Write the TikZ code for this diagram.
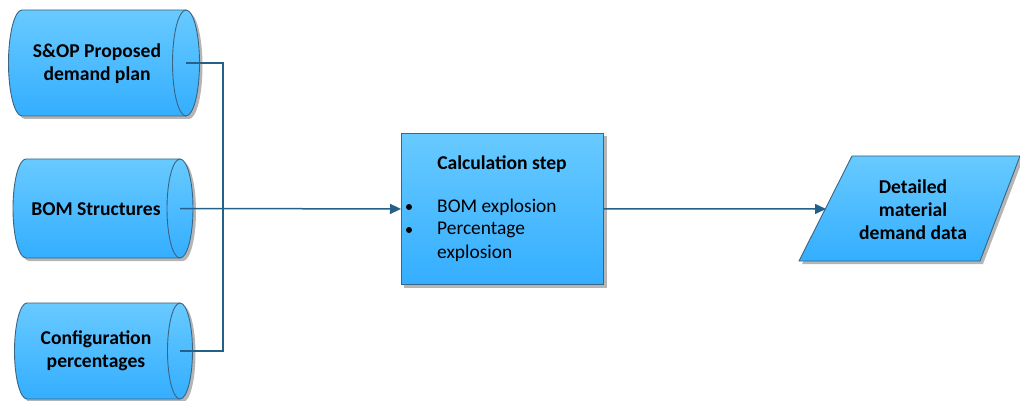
\documentclass[tikz,border=0pt]{standalone}
\usepackage{fontspec}
\setmainfont{Carlito}
\usetikzlibrary{arrows.meta,calc}

\definecolor{fillTop}{RGB}{104,202,255}
\definecolor{fillBot}{RGB}{52,174,255}
\definecolor{edgeCol}{RGB}{58,100,130}
\definecolor{linkCol}{RGB}{36,96,136}
\definecolor{shadowCol}{RGB}{150,150,150}

\tikzset{
  shapefill/.style={top color=fillTop, bottom color=fillBot, draw=edgeCol, line width=0.9pt},
  shapeshadow/.style={fill=shadowCol, draw=none, opacity=0.7},
  link/.style={draw=linkCol, line width=1.5pt},
  linkarrow/.style={link, -{Triangle[length=11pt,width=10pt]}},
  lbl/.style={font=\bfseries\fontsize{19.6}{23}\selectfont, align=center, text=black},
  body/.style={font=\fontsize{19.4}{23}\selectfont, text=black, inner sep=0pt},
}

% horizontal cylinder: #1 left x, #2 right x, #3 top y, #4 bottom y,
% #5 half-width and #6 half-height of the end ellipse (with units)
\newcommand{\storepath}[6]{%
  (#1,#3) -- (#2,#3)
  arc[start angle=90, end angle=-90, x radius=#5, y radius=#6]
  -- (#1,#4)
  arc[start angle=270, end angle=90, x radius=#5, y radius=#6] -- cycle}
\newcommand{\storeshape}[7]{%
  \path[shapeshadow] [shift={(3,3)}] \storepath{#1}{#2}{#3}{#4}{#5}{#6};
  \path[shapefill] \storepath{#1}{#2}{#3}{#4}{#5}{#6};
  \draw[edgeCol, line width=0.9pt] (#2,#3)
    arc[start angle=90, end angle=270, x radius=#5, y radius=#6];
  \coordinate (#7) at (#2,{(#3+#4)/2});
}

\begin{document}
\begin{tikzpicture}[x=1pt, y=-1pt]
\useasboundingbox (0,0) rectangle (1020,401);

% data stores on the left
\storeshape{22}{186}{10}{116}{13.5pt}{53pt}{plan}
\node[lbl] (plantxt) at (97,64) {S\&OP Proposed\\demand plan};

\storeshape{26}{180}{159}{258}{13pt}{49.5pt}{bom}
\node[lbl] (bomtxt) at (96,209) {BOM Structures};

\storeshape{27}{180}{303}{399}{12.5pt}{48pt}{cfg}
\node[lbl] (cfgtxt) at (96,351) {Configuration\\percentages};

% calculation step
\fill[shadowCol, opacity=0.7] (404,136) rectangle (607,288);
\node[shapefill, rectangle, minimum width=202pt, minimum height=151pt,
      anchor=north west, inner sep=0pt] (calc) at (401,133) {};
\node[lbl] (calctitle) at (502,164) {Calculation step};
\node[body, anchor=west] (b1) at (437,207) {BOM explosion};
\node[body, anchor=west] (b2) at (437,230) {Percentage};
\node[body, anchor=west] (b3) at (437,253) {explosion};
\fill (409,207) circle (3pt);
\fill (409,230) circle (3pt);

% output data
\path[shapeshadow] (802,264) -- (855,159) -- (1023,159) -- (983,264) -- cycle;
\path[shapefill] (799,261) -- (852,156) -- (1020,156) -- (980,261) -- cycle;
\coordinate (outin) at (826,209);
\node[lbl] (outtxt) at (913,210) {Detailed\\material\\demand data};

% connectors
\coordinate (busTop) at (223,63);
\coordinate (busBot) at (223,351);
\draw[link] (plan) -- (busTop) -- (busBot) -- (cfg);
\draw[linkarrow] (bom) -- (calc.west);
\draw[linkarrow] (calc.east) -- (outin);
\end{tikzpicture}
\end{document}
